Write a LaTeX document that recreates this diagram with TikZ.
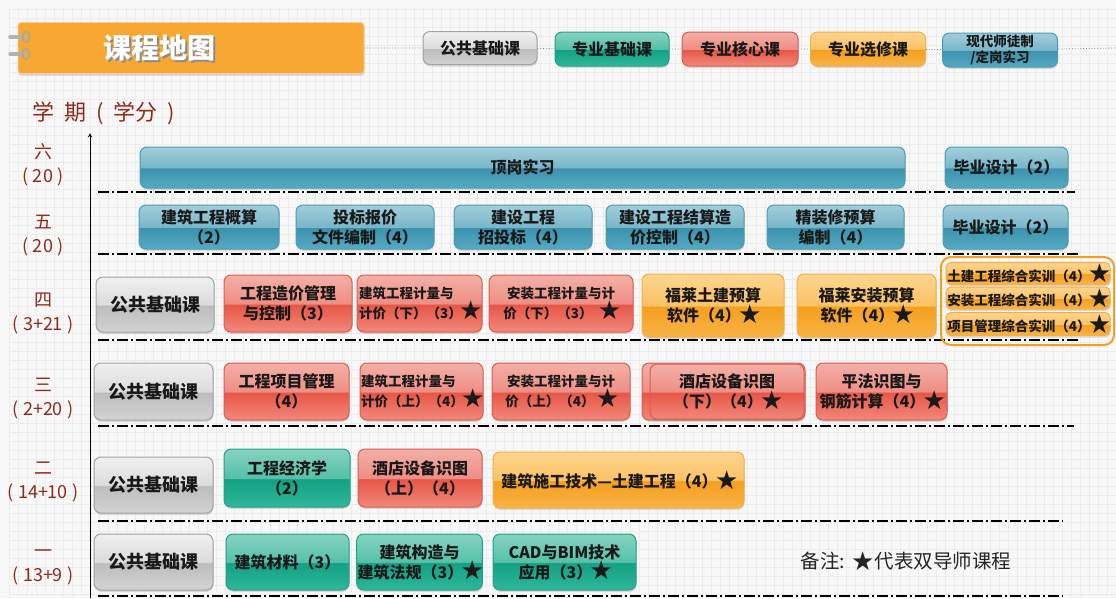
\documentclass[tikz,border=0pt]{standalone}
\usepackage{fontspec}
\setmainfont{Noto Sans CJK SC}
\newfontfamily\starfont{DejaVu Sans}
\usetikzlibrary{shapes,arrows,shadows}

\definecolor{semred}{HTML}{8E2A1C}
\definecolor{bgcol}{HTML}{F8F8F8}
\definecolor{gridcol}{HTML}{ECECEC}
\definecolor{titleor}{HTML}{F7A833}
% gloss colours: border, top, above middle, below middle, bottom
\definecolor{gybd}{HTML}{A3A3A3}\definecolor{gytop}{HTML}{F0F0F0}\definecolor{gyhi}{HTML}{DCDCDC}\definecolor{gylo}{HTML}{BDBDBD}\definecolor{gybot}{HTML}{D3D3D3}
\definecolor{gnbd}{HTML}{22A287}\definecolor{gntop}{HTML}{86D3C0}\definecolor{gnhi}{HTML}{55C1A8}\definecolor{gnlo}{HTML}{14A084}\definecolor{gnbot}{HTML}{2FB899}
\definecolor{rdbd}{HTML}{DE5B50}\definecolor{rdtop}{HTML}{F3B0A8}\definecolor{rdhi}{HTML}{EF8E84}\definecolor{rdlo}{HTML}{E65646}\definecolor{rdbot}{HTML}{F2897C}
\definecolor{orbd}{HTML}{F3AE45}\definecolor{ortop}{HTML}{FDD590}\definecolor{orhi}{HTML}{FCC265}\definecolor{orlo}{HTML}{F59F1E}\definecolor{orbot}{HTML}{F8B447}
\definecolor{blbd}{HTML}{4B9CB4}\definecolor{bltop}{HTML}{A3CEDC}\definecolor{blhi}{HTML}{78B6CA}\definecolor{bllo}{HTML}{3C92AC}\definecolor{blbot}{HTML}{55AAC3}

\pgfdeclareverticalshading{glossgray}{100bp}{color(0bp)=(gybot); color(25bp)=(gybot); color(49bp)=(gylo); color(50bp)=(gyhi); color(75bp)=(gytop); color(100bp)=(gytop)}
\pgfdeclareverticalshading{glossgreen}{100bp}{color(0bp)=(gnbot); color(25bp)=(gnbot); color(49bp)=(gnlo); color(50bp)=(gnhi); color(75bp)=(gntop); color(100bp)=(gntop)}
\pgfdeclareverticalshading{glossred}{100bp}{color(0bp)=(rdbot); color(25bp)=(rdbot); color(49bp)=(rdlo); color(50bp)=(rdhi); color(75bp)=(rdtop); color(100bp)=(rdtop)}
\pgfdeclareverticalshading{glossorange}{100bp}{color(0bp)=(orbot); color(25bp)=(orbot); color(49bp)=(orlo); color(50bp)=(orhi); color(75bp)=(ortop); color(100bp)=(ortop)}
\pgfdeclareverticalshading{glossblue}{100bp}{color(0bp)=(blbot); color(25bp)=(blbot); color(49bp)=(bllo); color(50bp)=(blhi); color(75bp)=(bltop); color(100bp)=(bltop)}

\newcommand\dstar{\makebox[18pt][c]{\starfont\fontsize{26}{18}\selectfont\raisebox{-1.5pt}{★}}}

\tikzset{
  course/.style={rectangle, rounded corners=7pt, line width=1pt, shade, align=center,
    inner sep=1pt, text=black!90, font=\bfseries\fontsize{16}{20}\selectfont,
    drop shadow={opacity=0.25, shadow xshift=0.5pt, shadow yshift=-2pt}},
  pubbox/.style={course, draw=gybd, shading=glossgray},
  basebox/.style={course, draw=gnbd, shading=glossgreen},
  corebox/.style={course, draw=rdbd, shading=glossred},
  electbox/.style={course, draw=orbd, shading=glossorange},
  pracbox/.style={course, draw=blbd, shading=glossblue},
  pubrow/.style={pubbox, font=\bfseries\fontsize{18}{22}\selectfont},
  smalltxt/.style={font=\bfseries\fontsize{13.5}{18}\selectfont},
  semlabel/.style={text=semred, align=center, font=\fontsize{18}{24}\selectfont},
  sepline/.style={line width=1.2pt, dash pattern=on 11pt off 3pt on 2pt off 3pt},
  legendline/.style={gray, dotted, line width=0.8pt},
}

\begin{document}
\begin{tikzpicture}[x=1pt,y=-1pt]
  \useasboundingbox (0,0) rectangle (1116,598);

% background grid
  \fill[bgcol] (0,0) rectangle (1116,598);
  \draw[gridcol, line width=0.4pt, step=9pt] (9,7) grid (1116,598);

  \pgfmathsetmacro\ysix{167.5}
  \pgfmathsetmacro\yfive{227}
  \pgfmathsetmacro\yfour{303.5}
  \pgfmathsetmacro\ythree{391.5}
  \pgfmathsetmacro\ytwo{478}
  \pgfmathsetmacro\yone{562}

% title with binder rings
  \node[rectangle, rounded corners=3pt, fill=titleor, draw=orange!40, line width=0.8pt,
        minimum width=346, minimum height=51,
        drop shadow={opacity=0.3, shadow xshift=0.5pt, shadow yshift=-2pt}] (title) at (191,48) {};
  \node[text=black!45, font=\bfseries\fontsize{28}{30}\selectfont] (titleshade) at (161,49.5) {课程地图};
  \node[text=white, font=\bfseries\fontsize{28}{30}\selectfont] (titletxt) at (159.5,48) {课程地图};
  \draw[line width=3.5pt, gray!60, line cap=round] (10,37) -- (24,37);
  \draw[line width=1.5pt, gray!70] (26,37) ellipse (3.5 and 5.5);
  \draw[line width=3.5pt, gray!60, line cap=round] (10,54) -- (24,54);
  \draw[line width=1.5pt, gray!70] (26,54) ellipse (3.5 and 5.5);

% legend
  \node[pubbox, minimum width=114, minimum height=33] (lgA) at (480,48) {公共基础课};
  \node[basebox, minimum width=114, minimum height=34] (lgB) at (612,49) {专业基础课};
  \node[corebox, minimum width=116, minimum height=34] (lgC) at (740,49) {专业核心课};
  \node[electbox, minimum width=115, minimum height=34] (lgD) at (868,49) {专业选修课};
  \node[pracbox, smalltxt, font=\bfseries\fontsize{13.5}{16}\selectfont,
        minimum width=115, minimum height=34] (lgE) at (1000,50) {现代师徒制\\/定岗实习};
  \coordinate (lgend) at (1116,48);
  \draw[legendline] (title) -- (lgA) (lgA) -- (lgB) (lgB) -- (lgC) (lgC) -- (lgD) (lgD) -- (lgE) (lgE) -- (lgend);

% semester axis
  \node[text=semred, font=\fontsize{22}{24}\selectfont] (semhead) at (104,113)
        {学\hspace{10pt}期\hspace{10pt}(\hspace{10pt}学分\hspace{10pt})};
  \coordinate (axisbot) at (90,598);
  \coordinate (axistop) at (90,133);
  \draw[-stealth, line width=1pt] (axisbot) -- (axistop);

  \node[semlabel] (lsix) at (43,165) {六\\( 20 )};
  \node[semlabel] (lfive) at (43,236) {五\\( 20 )};
  \node[semlabel] (lfour) at (43,313.5) {四\\( 3+21 )};
  \node[semlabel] (lthree) at (43,398.5) {三\\( 2+20 )};
  \node[semlabel] (ltwo) at (43,481.5) {二\\( 14+10 )};
  \node[semlabel] (lone) at (43,567) {一\\( 13+9 )};

% row separators
  \draw[sepline] (98,192) -- (1075,192);
  \draw[sepline] (98,254) -- (1080,254);
  \draw[sepline] (98,340) -- (1080,340);
  \draw[sepline] (98,426) -- (1074,426);
  \draw[sepline] (98,521) -- (1063,521);
  \draw[sepline] (98,596) -- (1063,596);

% semester 6
  \node[pracbox, minimum width=765, minimum height=41] (ding) at (522.5,\ysix) {顶岗实习};
  \node[pracbox, minimum width=123, minimum height=41] (bysjsix) at (1006.5,\ysix) {毕业设计（2）};

% semester 5
  \node[pracbox, minimum width=140, minimum height=44] (gs) at (209,\yfive) {建筑工程概算\\（2）};
  \node[pracbox, minimum width=138, minimum height=44] (tb) at (365,\yfive) {投标报价\\文件编制（4）};
  \node[pracbox, minimum width=138, minimum height=44] (zt) at (523,\yfive) {建设工程\\招投标（4）};
  \node[pracbox, minimum width=138, minimum height=44] (js) at (675,\yfive) {建设工程结算造\\价控制（4）};
  \node[pracbox, minimum width=137, minimum height=44] (jz) at (835.5,\yfive) {精装修预算\\编制（4）};
  \node[pracbox, minimum width=125, minimum height=44] (bysjfive) at (1005.5,\yfive) {毕业设计（2）};

% semester 4
  \node[pubrow, minimum width=118, minimum height=55] (ggfour) at (155,304.5) {公共基础课};
  \node[corebox, minimum width=128, minimum height=57] (zj) at (288,\yfour) {工程造价管理\\与控制（3）};
  \node[corebox, smalltxt, align=left, minimum width=125, minimum height=57] (jzx) at (419.5,\yfour)
        {建筑工程计量与\\计价（下）（3）\dstar};
  \node[corebox, smalltxt, minimum width=144, minimum height=57] (azx) at (561,\yfour)
        {安装工程计量与计\\价（下）（3）\hspace{8pt}\dstar};
  \node[electbox, minimum width=142, minimum height=63] (flt) at (713,305.5) {福莱土建预算\\软件（4）\dstar};
  \node[electbox, minimum width=139, minimum height=63] (fla) at (866.5,305.5) {福莱安装预算\\软件（4）\dstar};
  \node[rectangle, rounded corners=10pt, draw=orlo, line width=2pt,
        minimum width=173, minimum height=88] (sxgroup) at (1027.5,301) {};
  \node[electbox, smalltxt, rounded corners=5pt, minimum width=164, minimum height=22] (sxa) at (1028,273.5)
        {土建工程综合实训（4）\dstar};
  \node[electbox, smalltxt, rounded corners=5pt, minimum width=164, minimum height=22] (sxb) at (1028,298)
        {安装工程综合实训（4）\dstar};
  \node[electbox, smalltxt, rounded corners=5pt, minimum width=164, minimum height=23] (sxc) at (1028,324)
        {项目管理综合实训（4）\dstar};

% semester 3
  \node[pubrow, minimum width=119, minimum height=57] (ggthree) at (153.5,\ythree) {公共基础课};
  \node[corebox, minimum width=125, minimum height=57] (xm) at (286.5,\ythree) {工程项目管理\\（4）};
  \node[corebox, smalltxt, align=left, minimum width=123, minimum height=57] (jzs) at (421.5,\ythree)
        {建筑工程计量与\\计价（上）（4）\dstar};
  \node[corebox, smalltxt, minimum width=138, minimum height=57] (azs) at (561,\ythree)
        {安装工程计量与计\\价（上）（4）\hspace{4pt}\dstar};
  \node[corebox, minimum width=163, minimum height=57] (jdxback) at (723.5,\ythree) {};
  \node[corebox, minimum width=154, minimum height=55] (jdx) at (727,\ythree) {酒店设备识图\\（下）（4）\dstar};
  \node[corebox, minimum width=131, minimum height=57] (pf) at (881.5,\ythree) {平法识图与\\钢筋计算（4）\dstar};

% semester 2
  \node[pubrow, minimum width=119, minimum height=56] (ggtwo) at (153.5,485) {公共基础课};
  \node[basebox, minimum width=126, minimum height=58] (jjx) at (287,\ytwo) {工程经济学\\（2）};
  \node[corebox, minimum width=124, minimum height=58] (jds) at (420,\ytwo) {酒店设备识图\\（上）（4）};
  \node[electbox, minimum width=251, minimum height=56] (sg) at (618.5,480) {建筑施工技术—土建工程（4）\dstar};

% semester 1
  \node[pubrow, minimum width=119, minimum height=56] (ggone) at (153.5,\yone) {公共基础课};
  \node[basebox, minimum width=123, minimum height=56] (cl) at (287.5,\yone) {建筑材料（3）};
  \node[basebox, minimum width=125, minimum height=56] (gz) at (419.5,\yone) {建筑构造与\\建筑法规（3）\dstar};
  \node[basebox, minimum width=143, minimum height=56] (cad) at (564.5,\yone) {CAD与BIM技术\\应用（3）\dstar};

% note
  \node[text=black!85, font=\fontsize{19.5}{22}\selectfont] (note) at (906,561)
        {备注: {\starfont\fontsize{26}{22}\selectfont\raisebox{-1.5pt}{★}}代表双导师课程};

\end{tikzpicture}
\end{document}
